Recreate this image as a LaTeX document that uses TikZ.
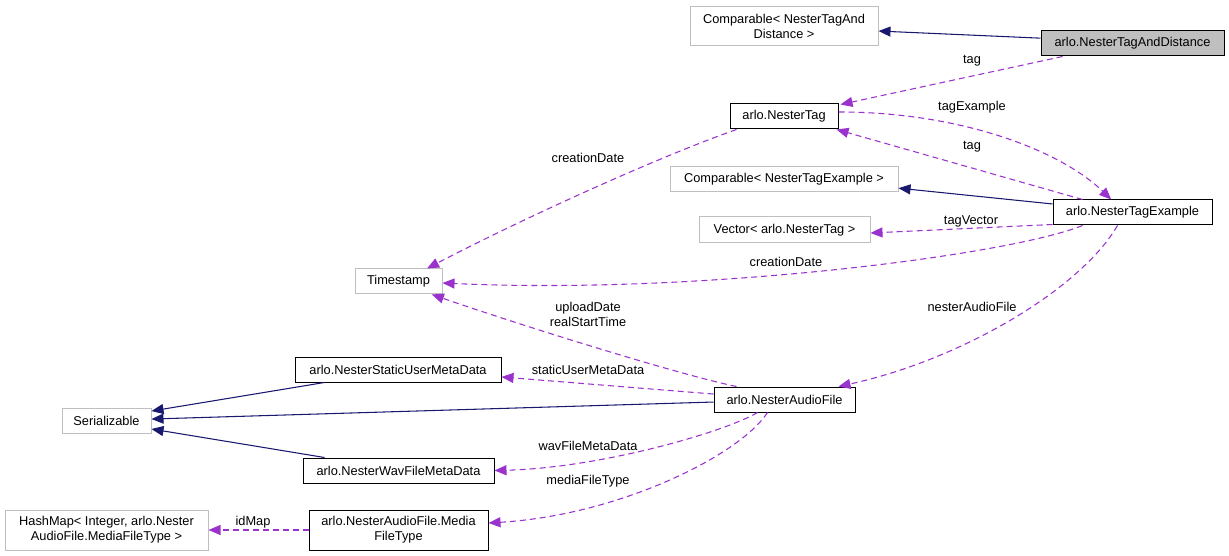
\documentclass[tikz,border=0pt]{standalone}
\usepackage{fontspec}
\setmainfont{Liberation Sans}
\usetikzlibrary{arrows.meta}
\definecolor{navyc}{HTML}{191970}
\definecolor{purplec}{HTML}{9A32CD}
\definecolor{grayb}{HTML}{BFBFBF}
\tikzset{
  cls/.style={draw=black, line width=0.75pt, rectangle, inner sep=0pt, align=center,
    font=\fontsize{9.6}{11.25}\selectfont, minimum height=18.75pt},
  ext/.style={cls, draw=grayb},
  cur/.style={cls, fill=grayb},
  lbl/.style={inner sep=0pt, align=center, font=\fontsize{9.6}{11.25}\selectfont},
  inh/.style={draw=navyc, line width=0.8pt, -{Triangle[length=9pt,width=7.5pt]}},
  use/.style={draw=purplec, line width=0.8pt, dash pattern=on 4.5pt off 3pt,
    -{Triangle[length=9pt,width=7.5pt]}},
}
\begin{document}
\begin{tikzpicture}[x=0.75pt,y=-0.75pt]
\useasboundingbox (0,0) rectangle (1229,556);
% nodes
\node[ext, minimum width=141pt, minimum height=29.25pt] (cmpd) at (784,26.5) {Comparable< NesterTagAnd\\Distance >};
\node[cur, minimum width=137.25pt] (ntad) at (1132.5,43.5) {arlo.NesterTagAndDistance};
\node[cls, minimum width=81pt] (ntag) at (784,116.5) {arlo.NesterTag};
\node[ext, minimum width=171pt] (cmpe) at (784,179.5) {Comparable< NesterTagExample >};
\node[cls, minimum width=119.25pt] (nte) at (1132.5,212.5) {arlo.NesterTagExample};
\node[ext, minimum width=128.25pt, minimum height=19.5pt] (vec) at (784.5,230) {Vector< arlo.NesterTag >};
\node[ext, minimum width=65.25pt] (ts) at (398.5,281.5) {Timestamp};
\node[cls, minimum width=154.5pt] (nsumd) at (398,369.5) {arlo.NesterStaticUserMetaData};
\node[cls, minimum width=105.75pt] (naf) at (784.5,399.5) {arlo.NesterAudioFile};
\node[ext, minimum width=66.75pt] (ser) at (106.5,420.5) {Serializable};
\node[cls, minimum width=143.25pt] (nwf) at (398.5,470.5) {arlo.NesterWavFileMetaData};
\node[ext, minimum width=152.25pt, minimum height=30pt] (hm) at (106.5,530) {HashMap< Integer, arlo.Nester\\AudioFile.MediaFileType >};
\node[cls, minimum width=134.25pt, minimum height=30pt] (mft) at (398.5,530) {arlo.NesterAudioFile.Media\\FileType};
% inheritance
\draw[inh] ([yshift=4pt]ntad.west) -- ([yshift=-3.4pt]cmpd.east);
\draw[inh] ([yshift=6.4pt]nte.west) -- ([yshift=-6.5pt]cmpe.east);
\draw[inh] ([yshift=-1.9pt]naf.west) -- ([yshift=1.1pt]ser.east);
\draw[inh] ([xshift=22.5pt]nsumd.south west) -- ([yshift=7.1pt]ser.east);
\draw[inh] ([xshift=16.5pt]nwf.north west) -- ([yshift=-6.4pt]ser.east);
% usage
\draw[use] ([xshift=16.5pt]ntad.south west) -- ([xshift=1.5pt,yshift=-0.75pt]ntag.north east);
\node[lbl] (l1) at (972,61) {tag};
\draw[use] ([yshift=3.4pt]ntag.east) .. controls (960,112) and (1060,150) .. ([xshift=-16pt]nte.north);
\node[lbl] (l2) at (972,107) {tagExample};
\draw[use] ([xshift=22.5pt]nte.north west) -- ([xshift=-1.5pt]ntag.south east);
\node[lbl] (l3) at (972,147) {tag};
\draw[use] ([yshift=0.75pt]nte.south west) -- ([yshift=-2.25pt]vec.east);
\node[lbl] (l4) at (971,221) {tagVector};
\draw[use] ([xshift=22.5pt]nte.south west) .. controls (1010,255) and (700,295) .. ([yshift=-1.1pt]ts.east);
\node[lbl] (l5) at (786,262) {creationDate};
\draw[use] ([xshift=-11.25pt]nte.south) .. controls (1080,290) and (960,360) .. ([xshift=-12.75pt]naf.north east);
\node[lbl] (l6) at (972,307) {nesterAudioFile};
\draw[use] ([xshift=5.25pt]ntag.south west) .. controls (650,160) and (510,225) .. ([xshift=21.4pt]ts.north);
\node[lbl] (l7) at (588,158) {creationDate};
\draw[use] ([xshift=17.25pt]naf.north west) .. controls (680,375) and (520,325) .. ([xshift=25pt]ts.south);
\node[lbl] (l8) at (588,314) {uploadDate\\realStartTime};
\draw[use] ([yshift=4.1pt]naf.west) -- ([yshift=-5.6pt]nsumd.east);
\node[lbl] (l9) at (588,370) {staticUserMetaData};
\draw[use] ([xshift=33pt]naf.south west) .. controls (725,432) and (600,468) .. (nwf.east);
\node[lbl] (l10) at (588,446) {wavFileMetaData};
\draw[use] ([xshift=40.5pt]naf.south west) .. controls (740,455) and (620,515) .. ([yshift=5.25pt]mft.east);
\node[lbl] (l11) at (588,481) {mediaFileType};
\draw[use] (mft.west) -- (hm.east);
\node[lbl] (l12) at (253,522) {idMap};
\end{tikzpicture}
\end{document}
